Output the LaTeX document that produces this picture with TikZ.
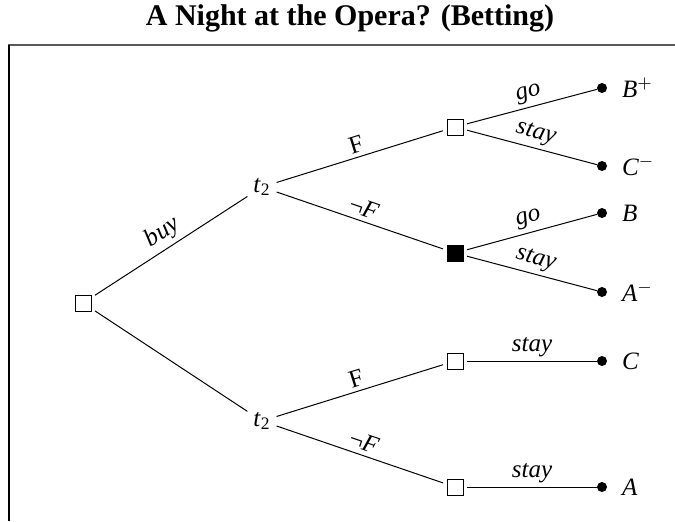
\documentclass[tikz,border=0pt]{standalone}
\usepackage{fontspec}
\setmainfont{Liberation Serif}
\usepackage{tikz}
\usetikzlibrary{positioning}
\definecolor{framegray}{RGB}{90,90,90}

\begin{document}
\begin{tikzpicture}[
        x=0.5pt, y=-0.5pt,
        font=\fontsize{12.5}{15}\selectfont,
        choicebox/.style={shape=rectangle, draw=black, line width=0.5pt, minimum size=8pt, inner sep=0pt, outer sep=2pt},
        playbox/.style={choicebox, fill=black},
        chancenode/.style={inner sep=1pt, outer sep=2pt},
        outcome/.style={circle, fill=black, minimum size=5pt, inner sep=0pt, outer sep=0pt},
        branchlabel/.style={midway, above, sloped, inner sep=2pt},
        branch/.style={line width=0.5pt}
    ]
        \useasboundingbox (0,0) rectangle (675,521);
        % Title and frame
        \node[font=\fontsize{15}{18}\selectfont\bfseries] (title) at (350,18) {A Night at the Opera? (Betting)};
        \draw[framegray, line width=1pt] (8,45) -- (675,45);
        \draw[black, line width=0.8pt] (9,45) -- (9,521);
        % Decision and chance nodes
        \node[choicebox] (root) at (83,303) {};
        \node[chancenode] (tup) at (262,187) {\textit{t}\textsubscript{2}};
        \node[chancenode] (tlow) at (262,421) {\textit{t}\textsubscript{2}};
        \node[choicebox] (dF) at (455,127) {};
        \node[playbox] (dnF) at (455,253) {};
        \node[choicebox] (lF) at (455,361) {};
        \node[choicebox] (lnF) at (455,487) {};
        % Outcomes
        \node[outcome, label={[label distance=4pt]right:\textit{B}$^{+}$}] (bplus) at (602,88) {};
        \node[outcome, label={[label distance=4pt]right:\textit{C}$^{-}$}] (cminus) at (602,166) {};
        \node[outcome, label={[label distance=4pt]right:\textit{B}}] (b) at (602,213) {};
        \node[outcome, label={[label distance=4pt]right:\textit{A}$^{-}$}] (aminus) at (602,292) {};
        \node[outcome, label={[label distance=4pt]right:\textit{C}}] (c) at (602,361) {};
        \node[outcome, label={[label distance=4pt]right:\textit{A}}] (a) at (602,487) {};
        % Branches
        \draw[branch] (root) -- node[branchlabel] {\textit{buy}} (tup);
        \draw[branch] (root) -- (tlow);
        \draw[branch] (tup) -- node[branchlabel] {F} (dF);
        \draw[branch] (tup) -- node[branchlabel] {¬\textit{F}} (dnF);
        \draw[branch] (tlow) -- node[branchlabel] {F} (lF);
        \draw[branch] (tlow) -- node[branchlabel] {¬\textit{F}} (lnF);
        \draw[branch] (dF) -- node[branchlabel] {\textit{go}} (bplus);
        \draw[branch] (dF) -- node[branchlabel] {\textit{stay}} (cminus);
        \draw[branch] (dnF) -- node[branchlabel] {\textit{go}} (b);
        \draw[branch] (dnF) -- node[branchlabel] {\textit{stay}} (aminus);
        \draw[branch] (lF) -- node[branchlabel] {\textit{stay}} (c);
        \draw[branch] (lnF) -- node[branchlabel] {\textit{stay}} (a);
    \end{tikzpicture}
\end{document}
